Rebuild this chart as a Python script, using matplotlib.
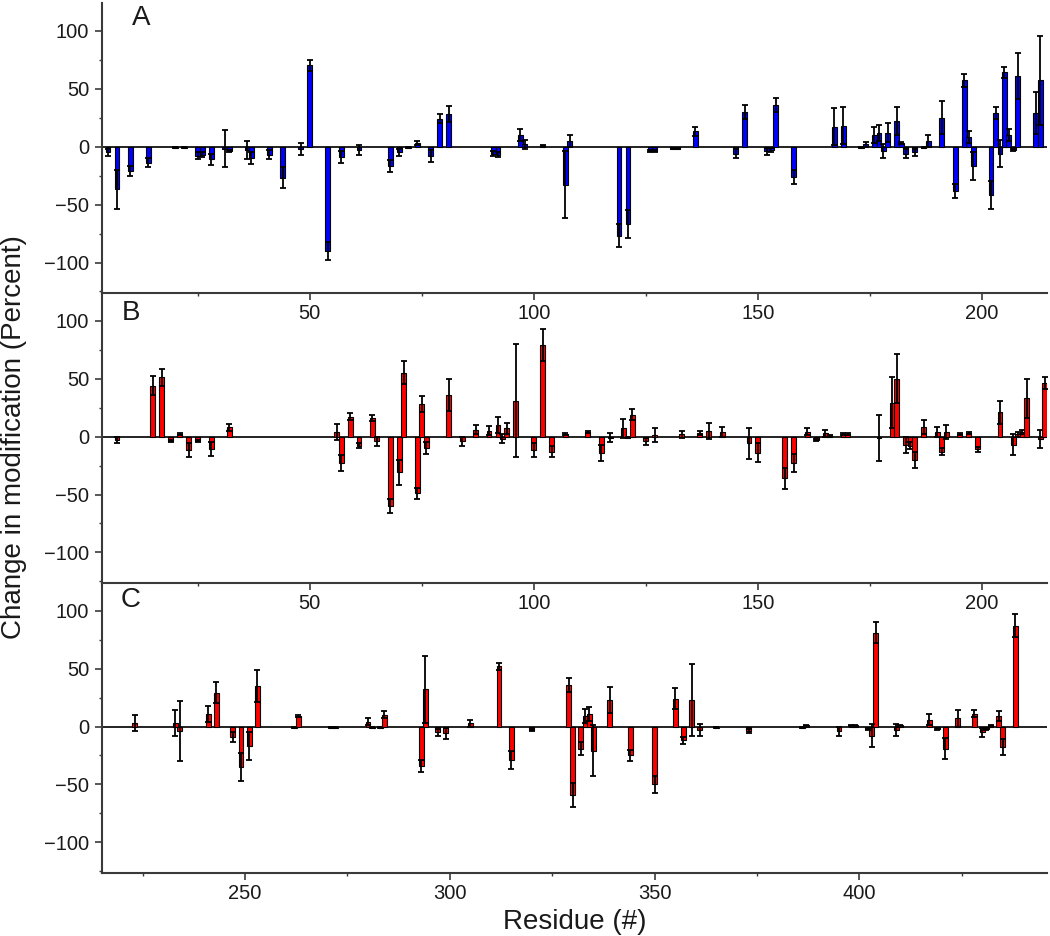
import matplotlib
matplotlib.use("Agg")
import matplotlib.pyplot as plt
from matplotlib.ticker import MultipleLocator

plt.rcParams['font.family'] = ['Liberation Sans', 'DejaVu Sans']

# ---------------- data ----------------
A_res = [5, 7, 10, 14, 20, 22, 25, 26, 28, 31, 32, 36, 37, 41, 44, 48, 50, 54, 57, 61,
         68, 70, 72, 74, 77, 79, 81, 91, 92, 97, 98, 102, 107, 108, 119, 121, 126, 127,
         131, 132, 136, 145, 147, 152, 153, 154, 158, 167, 169, 173, 174, 176, 177, 178,
         179, 181, 182, 183, 185, 187, 188, 191, 194, 196, 197, 198, 202, 203, 204, 205,
         206, 207, 208, 212, 213]
A_val = [-5, -37, -21, -14, -1, -1, -8, -7, -11, -2, -4, -3, -10, -7, -27, -2, 70, -90, -9, -3,
         -17, -5, -1, 3, -8, 24, 28, -6, -7, 10, 2, 1, -33, 5, -77, -67, -4, -4,
         -2, -2, 13, -6, 30, -4, -3, 36, -26, 17, 18, -1, 2, 10, 12, -4,
         12, 22, 3, -6, -5, -1, 5, 25, -38, 57, 8, -17, -42, 29, -6, 64,
         10, -3, 61, 29, 57]
A_err = [3, 17, 4, 4, 0.5, 0.5, 3, 2, 5, 16, 1, 8, 5, 4, 9, 5, 5, 8, 5, 4,
         5, 3, 0.5, 2, 5, 4, 7, 2, 2, 5, 4, 0.5, 29, 5, 10, 12, 1, 1,
         0.5, 0.5, 4, 4, 6, 3, 2, 6, 6, 16, 16, 0.5, 2, 7, 7, 6,
         8, 12, 1, 4, 3, 0.5, 5, 14, 6, 6, 5, 12, 12, 5, 12, 5,
         5, 1, 20, 18, 38]

B_res = [7, 15, 17, 19, 21, 23, 25, 28, 32, 56, 57, 59, 61, 64, 65, 68, 70, 71, 74, 75,
         76, 81, 84, 87, 90, 92, 93, 94, 96, 100, 102, 104, 107, 112, 115, 117, 120, 121,
         122, 125, 127, 133, 137, 139, 142, 148, 150, 156, 158, 161, 163, 165, 166, 169,
         170, 177, 180, 181, 183, 184, 185, 187, 190, 191, 192, 195, 197, 199, 204, 207,
         208, 209, 210, 213, 214]
B_val = [-3, 44, 51, -4, 2, -12, -4, -11, 8, 4, -23, 17, -8, 16, -4, -60, -31, 55, -49, 28,
         -10, 36, -4, 6, 5, 10, -2, 7, 31, -12, 79, -13, 2, 4, -14, -1, 7, -1,
         19, -4, 1, 2, 3, 5, 4, -6, -14, -36, -23, 4, -3, 3, 1, 2,
         2, -1, 29, 50, -7, -8, -20, 8, 4, -13, 4, 2, 3, -11, 21, -7,
         2, 4, 33, -2, 46]
B_err = [3, 8, 7, 1, 1, 6, 1, 6, 3, 7, 7, 3, 2, 3, 4, 6, 11, 10, 5, 7,
         5, 14, 4, 4, 4, 7, 4, 5, 49, 6, 14, 5, 1, 1, 7, 4, 8, 0.5,
         5, 3, 6, 3, 2, 7, 4, 13, 8, 9, 8, 3, 1, 3, 0.5, 1,
         1, 20, 22, 21, 7, 3, 7, 6, 4, 3, 6, 1, 1, 2, 10, 9,
         2, 2, 17, 8, 5]

C_res = [223, 233, 234, 241, 243, 247, 249, 251, 253, 262, 263, 271, 272, 280, 281, 283, 284,
         293, 294, 297, 299, 305, 312, 315, 320, 329, 330, 332, 333, 334, 335, 339, 344,
         350, 355, 357, 359, 361, 365, 373, 386, 387, 395, 398, 399, 402, 403, 404, 409,
         410, 417, 419, 421, 424, 428, 430, 431, 432, 434, 435, 438]
C_val = [3, 3, -4, 11, 29, -9, -35, -17, 35, -1, 9, -1, -1, 4, -1, -1, 10,
         -34, 32, -5, -6, 3, 52, -29, -3, 36, -59, -19, 9, 11, -21, 23, -25,
         -50, 24, -12, 23, -3, -1, -4, -1, 1, -4, 1, 1, -2, -8, 81, -3,
         1, 6, -2, -19, 7, 11, -5, -2, 1, 9, -18, 87]
C_err = [7, 11, 26, 7, 9, 4, 12, 12, 14, 0.5, 1, 0.5, 0.5, 3, 0.5, 0.5, 3,
         5, 29, 3, 5, 3, 3, 8, 1, 6, 10, 6, 6, 6, 22, 11, 5,
         7, 9, 3, 31, 5, 0.5, 2, 0.5, 0.5, 4, 0.5, 0.5, 1, 10, 9, 5,
         0.5, 5, 1, 9, 7, 3, 4, 1, 0.5, 4, 7, 10]

panel_labels = ["A", "B", "C"]
label_pos = [(0.0416, 0.949), (0.031, 0.932), (0.031, 0.944)]

panels = [
    (A_res, A_val, A_err, "#0000FF", (3.6, 214.5), [50, 100, 150, 200], 1.1),
    (B_res, B_val, B_err, "#FF0000", (3.6, 214.5), [50, 100, 150, 200], 1.1),
    (C_res, C_val, C_err, "#FF0000", (215.0, 445.8), [250, 300, 350, 400], 1.2),
]

# ---------------- figure ----------------
fig = plt.figure(figsize=(10.5, 9.36), dpi=100)
left, width, height = 0.0969, 0.9003, 0.3098
bottoms = [0.6866, 0.3768, 0.0670]
spine_col = "#3a3a3a"
text_col = "#1a1a1a"

for i, (res, val, err, col, xlim, xt, bw) in enumerate(panels):
    ax = fig.add_axes([left, bottoms[i], width, height])
    ax.set_facecolor("none")
    ax.set_zorder(10 - i)
    ax.axhline(0, color="#222222", lw=1.4, zorder=1)
    ax.bar(res, val, width=bw, color=col, edgecolor="black", linewidth=0.8, zorder=2)
    ax.errorbar(res, val, yerr=err, fmt="none", ecolor="black", elinewidth=1.3,
                capsize=2.2, capthick=1.3, zorder=3)
    ax.set_xlim(*xlim)
    ax.set_ylim(-126.6, 123.5)
    ax.set_xticks(xt)
    ax.xaxis.set_minor_locator(MultipleLocator(25))
    ax.set_yticks([-100, -50, 0, 50, 100])
    ax.yaxis.set_minor_locator(MultipleLocator(25))
    ax.tick_params(axis="both", which="major", direction="out", length=5, width=1.2,
                   color=spine_col, labelsize=14.5, labelcolor=text_col)
    ax.tick_params(axis="both", which="minor", direction="out", length=2.5, width=1.0,
                   color=spine_col)
    ax.tick_params(axis="x", pad=2.5)
    ax.tick_params(axis="y", pad=4)
    for s in ["top", "right"]:
        ax.spines[s].set_visible(False)
    for s in ["left", "bottom"]:
        ax.spines[s].set_color(spine_col)
        ax.spines[s].set_linewidth(1.5)
    lx, ly = label_pos[i]
    ax.text(lx, ly, panel_labels[i], transform=ax.transAxes, fontsize=20,
            color=text_col, ha="center", va="center")

fig.text(0.0129, 0.533, "Change in modification (Percent)", rotation=90,
         ha="center", va="center", fontsize=20, color=text_col)
fig.text(0.5475, 0.0075, "Residue (#)", ha="center", va="baseline", fontsize=20,
         color=text_col)

fig.savefig("out.png", dpi=100)
